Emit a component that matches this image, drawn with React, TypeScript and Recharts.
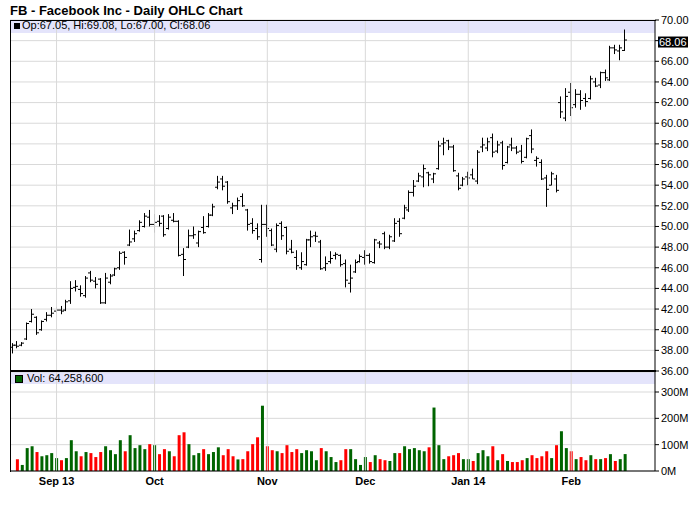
import { Bar, CartesianGrid, Cell, ComposedChart, ReferenceLine, XAxis, YAxis } from "recharts";

// daily OHLC, Aug 20 2013 .. Feb 19 2014 (one entry per trading day)
const opens = [
  38.3, 38.5, 38.5, 39.1, 40.8, 41.2, 40.0, 41.0, 41.4, 41.8,
  41.9, 41.9, 42.8, 44.1, 43.9, 43.3, 45.5, 44.7, 44.9, 42.6,
  44.6, 45.3, 46.0, 47.5, 48.2, 48.8, 49.6, 50.0, 50.9, 50.2,
  50.5, 51.0, 49.8, 50.6, 50.5, 47.3, 48.0, 49.1, 48.4, 49.9,
  50.0, 51.1, 53.8, 54.6, 54.3, 51.8, 52.0, 52.9, 51.6, 50.3,
  49.8, 46.8, 50.2, 49.6, 47.8, 50.3, 49.9, 47.8, 47.0, 46.0,
  46.3, 48.7, 49.1, 48.5, 46.0, 46.6, 47.2, 47.2, 46.4, 44.5,
  45.6, 46.6, 47.0, 47.2, 46.5, 48.4, 49.3, 48.0, 48.6, 50.5,
  50.8, 51.6, 53.3, 54.4, 54.8, 55.2, 54.6, 55.6, 58.0, 58.3,
  57.7, 54.9, 54.0, 54.8, 55.0, 54.4, 57.7, 57.6, 58.6, 57.3,
  58.1, 56.2, 57.9, 57.6, 57.3, 56.7, 58.8, 56.4, 56.2, 54.7,
  54.0, 54.6, 62.0, 60.5, 63.0, 61.8, 62.8, 62.4, 62.4, 64.0,
  63.7, 64.9, 64.2, 67.3, 67.0, 67.05,
];
const highs = [
  38.7, 38.9, 38.8, 40.7, 42.0, 41.3, 40.9, 41.7, 42.2, 42.2,
  42.3, 42.9, 44.7, 44.8, 44.3, 45.2, 45.7, 45.1, 45.0, 45.5,
  45.4, 46.0, 47.6, 47.6, 49.7, 49.6, 50.6, 51.3, 51.6, 51.2,
  51.1, 51.1, 51.2, 51.3, 50.6, 47.9, 49.7, 50.0, 49.6, 51.0,
  51.3, 52.2, 54.9, 54.9, 54.4, 52.3, 52.8, 53.2, 51.7, 50.8,
  50.3, 52.1, 52.1, 49.8, 50.3, 50.5, 50.0, 48.7, 47.7, 47.5,
  48.8, 49.6, 49.5, 48.7, 47.1, 47.6, 47.5, 47.3, 46.8, 46.3,
  46.8, 47.3, 47.7, 47.4, 48.8, 48.6, 49.5, 49.2, 50.8, 50.8,
  52.1, 53.5, 54.5, 55.2, 56.0, 55.3, 55.2, 58.3, 58.6, 58.4,
  57.9, 55.2, 54.8, 55.3, 55.6, 57.4, 58.6, 58.6, 59.0, 58.3,
  58.3, 57.8, 58.6, 57.8, 57.9, 58.6, 59.4, 56.8, 56.5, 55.0,
  55.3, 55.0, 62.6, 63.4, 63.9, 63.3, 63.2, 62.9, 64.6, 64.4,
  65.0, 65.2, 67.5, 67.6, 67.6, 69.08,
];
const lows = [
  37.7, 38.2, 38.4, 39.0, 40.7, 39.5, 39.9, 40.8, 41.2, 41.6,
  41.5, 41.8, 42.5, 43.7, 43.2, 43.1, 44.6, 44.0, 42.5, 42.5,
  44.4, 45.2, 45.8, 46.3, 48.1, 48.5, 49.5, 49.9, 50.0, 49.4,
  50.0, 49.0, 49.7, 50.4, 47.1, 45.2, 47.9, 48.8, 48.0, 49.3,
  49.9, 51.0, 53.6, 53.5, 52.2, 51.2, 51.6, 51.9, 49.6, 49.3,
  48.7, 46.5, 49.0, 48.1, 47.5, 48.7, 47.3, 47.4, 45.8, 45.8,
  46.2, 48.0, 48.5, 45.8, 45.7, 46.4, 46.8, 46.1, 44.1, 43.6,
  45.5, 46.5, 46.3, 46.4, 46.4, 47.9, 47.8, 47.8, 48.5, 49.0,
  50.7, 51.4, 52.9, 54.3, 53.8, 53.9, 54.2, 55.5, 56.9, 57.4,
  55.3, 53.5, 53.9, 54.0, 54.6, 54.1, 57.2, 57.3, 56.7, 57.1,
  55.5, 56.1, 57.3, 57.0, 56.1, 56.6, 57.1, 55.8, 54.5, 51.9,
  54.0, 53.3, 60.5, 60.2, 60.7, 61.5, 61.3, 61.6, 62.3, 63.5,
  63.4, 64.1, 64.1, 66.7, 66.1, 67.0,
];
const closes = [
  38.5, 38.4, 38.7, 40.6, 41.5, 39.7, 40.8, 41.4, 41.6, 41.9,
  41.8, 42.7, 44.0, 44.2, 43.5, 45.0, 44.8, 44.4, 42.6, 45.0,
  45.2, 45.9, 47.4, 47.0, 48.5, 49.3, 50.4, 51.0, 50.2, 50.4,
  50.3, 49.2, 50.9, 50.5, 47.2, 46.8, 49.1, 49.2, 49.5, 49.4,
  51.1, 51.9, 54.3, 53.9, 52.4, 52.0, 52.5, 52.0, 50.2, 49.6,
  49.0, 50.2, 49.8, 48.2, 50.1, 49.1, 47.6, 47.5, 46.2, 46.6,
  48.7, 49.0, 49.05, 45.9, 46.4, 46.9, 47.3, 46.3, 44.8, 45.0,
  46.5, 47.1, 47.2, 46.6, 48.7, 48.3, 48.0, 49.0, 50.3, 49.3,
  51.8, 53.3, 53.9, 54.9, 55.6, 55.0, 55.1, 57.8, 58.1, 57.7,
  55.4, 53.7, 54.6, 54.7, 54.6, 57.2, 57.9, 58.2, 57.2, 57.9,
  55.9, 57.7, 57.6, 57.2, 56.3, 58.5, 57.5, 56.6, 54.6, 53.6,
  55.1, 53.5, 61.1, 62.6, 61.5, 62.8, 62.2, 62.1, 64.3, 63.6,
  64.9, 64.4, 67.3, 67.1, 67.3, 68.06,
];
// volume in millions of shares (first day has no bar)
const volumes = [
  null, 45, 23, 87, 94, 72, 56, 60, 68, 49,
  41, 49, 117, 75, 56, 72, 68, 53, 72, 94,
  79, 64, 117, 75, 136, 87, 98, 83, 102, 98,
  64, 83, 75, 56, 136, 147, 102, 60, 68, 83,
  64, 72, 90, 60, 83, 56, 44, 45, 75, 102,
  128, 248, 94, 79, 75, 68, 98, 72, 83, 68,
  79, 75, 41, 87, 75, 53, 34, 41, 83, 83,
  45, 23, 53, 34, 60, 45, 41, 38, 68, 68,
  94, 83, 87, 79, 75, 90, 241, 98, 45, 56,
  60, 68, 45, 45, 38, 68, 79, 56, 94, 41,
  64, 38, 34, 34, 41, 49, 60, 49, 56, 75,
  49, 98, 151, 87, 75, 45, 53, 41, 60, 45,
  45, 49, 64, 38, 45, 64.26,
];
const lastVolumeShares = 64258600;

const monthTicks = [9, 29, 52, 72, 93, 114];
const monthLabels = ["Sep 13", "Oct", "Nov", "Dec", "Jan 14", "Feb"];
const priceTicks = [36, 38, 40, 42, 44, 46, 48, 50, 52, 54, 56, 58, 60, 62, 64, 66, 68, 70];
const volumeTicks = [0, 100, 200, 300];

const FONT = "'Liberation Sans', Arial, Helvetica, sans-serif";
const UP = "#006400";
const DOWN = "#ff0000";
const GRID = "#d9d9d9";
const BAND = "#e4e4fb";
const X_DOMAIN: [number, number] = [-0.5, 131.1];

const last = closes.length - 1;
const lastClose = closes[last];

const rows = closes.map((c, i) => ({
  i,
  range: [lows[i], highs[i]],
  o: opens[i],
  h: highs[i],
  l: lows[i],
  c,
  vol: volumes[i],
  up: i === 0 || c >= closes[i - 1],
}));

function OhlcBar(props: any) {
  const { x, y, width, height, payload } = props;
  if (x == null || !payload) return null;
  const top = Math.min(y, y + height);
  const span = Math.abs(height);
  const unit = payload.h > payload.l ? span / (payload.h - payload.l) : 0;
  const cx = Math.floor(x + width / 2) + 0.5;
  const oy = top + (payload.h - payload.o) * unit;
  const cy = top + (payload.h - payload.c) * unit;
  return (
    <g stroke="#000" strokeWidth={1}>
      <line x1={cx} x2={cx} y1={top} y2={top + Math.max(span, 1)} />
      <line x1={cx - 2.5} x2={cx} y1={oy} y2={oy} />
      <line x1={cx} x2={cx + 2.5} y1={cy} y2={cy} />
    </g>
  );
}

function LastPriceTag(props: any) {
  const vb = props.viewBox;
  if (!vb) return null;
  const x = vb.x + vb.width + 3;
  const y = vb.y;
  return (
    <g>
      <rect x={x} y={y - 3.5} width={30} height={11} fill="#000" />
      <text x={x + 1} y={y + 6} fill="#fff" fontSize={11} fontFamily={FONT}>
        {lastClose.toFixed(2)}
      </text>
    </g>
  );
}

export default function App() {
  const legend = `Op:${opens[last].toFixed(2)}, Hi:${highs[last].toFixed(2)}, Lo:${lows[last].toFixed(2)}, Cl:${lastClose.toFixed(2)}`;
  return (
    <div style={{ position: "absolute", left: 0, top: 0, width: 700, height: 512, background: "#fff", fontFamily: FONT, overflow: "hidden" }}>
      <div style={{ position: "absolute", left: 10, top: 3, fontSize: 13, fontWeight: "bold", lineHeight: "15px", color: "#000" }}>
        FB - Facebook Inc - Daily OHLC Chart
      </div>

      <div style={{ position: "absolute", left: 10, top: 20, width: 645, height: 12.5, background: BAND }} />
      <div style={{ position: "absolute", left: 10, top: 372, width: 645, height: 12, background: BAND }} />

      <div style={{ position: "absolute", left: 0, top: 372 }}>
        <ComposedChart width={700} height={140} data={rows} margin={{ top: 0, right: 0, left: 10, bottom: 0 }}>
          <CartesianGrid vertical={false} stroke={GRID} />
          <XAxis
            dataKey="i"
            type="number"
            domain={X_DOMAIN}
            allowDataOverflow
            ticks={monthTicks}
            interval={0}
            height={41}
            axisLine={{ stroke: "#000" }}
            tickLine={false}
            tickSize={4}
            tickMargin={2}
            tick={{ fontSize: 11, fontWeight: "bold", fill: "#000", fontFamily: FONT }}
            tickFormatter={(v: number) => monthLabels[monthTicks.indexOf(v)] ?? ""}
          />
          <YAxis
            orientation="right"
            width={45}
            domain={[0, 376]}
            ticks={volumeTicks}
            interval={0}
            allowDataOverflow
            axisLine={{ stroke: "#000" }}
            tickLine={{ stroke: "#000" }}
            tickSize={4}
            tickMargin={2}
            tick={{ fontSize: 11, fill: "#000", fontFamily: FONT }}
            tickFormatter={(v: number) => `${v}M`}
          />
          {monthTicks.map((m) => (
            <ReferenceLine key={m} x={m} stroke={GRID} />
          ))}
          <Bar dataKey="vol" barSize={3} isAnimationActive={false}>
            {rows.map((r) => (
              <Cell key={r.i} fill={r.up ? UP : DOWN} />
            ))}
          </Bar>
        </ComposedChart>
      </div>

      <div style={{ position: "absolute", left: 0, top: 0 }}>
        <ComposedChart width={700} height={382} data={rows} margin={{ top: 20, right: 0, left: 10, bottom: 11 }}>
          <CartesianGrid vertical={false} stroke={GRID} />
          <XAxis dataKey="i" type="number" domain={X_DOMAIN} allowDataOverflow hide />
          <YAxis
            orientation="right"
            width={45}
            domain={[36, 70]}
            ticks={priceTicks}
            interval={0}
            allowDataOverflow
            axisLine={{ stroke: "#000" }}
            tickLine={{ stroke: "#000" }}
            tickSize={4}
            tickMargin={2}
            tick={{ fontSize: 11, fill: "#000", fontFamily: FONT }}
            tickFormatter={(v: number) => (Math.abs(v - lastClose) < 1 ? "" : v.toFixed(2))}
          />
          {monthTicks.map((m) => (
            <ReferenceLine key={m} x={m} stroke={GRID} />
          ))}
          <Bar dataKey="range" barSize={4} shape={OhlcBar} isAnimationActive={false} />
          <ReferenceLine y={lastClose} stroke="none" label={<LastPriceTag />} />
        </ComposedChart>
      </div>

      <div style={{ position: "absolute", left: 10, top: 20, width: 646, height: 1, background: "#000" }} />
      <div style={{ position: "absolute", left: 10, top: 20, width: 1, height: 452, background: "#000" }} />
      <div style={{ position: "absolute", left: 10, top: 370, width: 646, height: 2, background: "#000" }} />

      <div style={{ position: "absolute", left: 14, top: 23, width: 6, height: 6, background: "#000" }} />
      <div style={{ position: "absolute", left: 22, top: 19, fontSize: 11, lineHeight: "12px", color: "#000", whiteSpace: "nowrap" }}>
        {legend}
      </div>
      <div style={{ position: "absolute", left: 15, top: 375, width: 8, height: 8, boxSizing: "border-box", background: UP, border: "1px solid #000" }} />
      <div style={{ position: "absolute", left: 27, top: 371.5, fontSize: 11, lineHeight: "12px", color: "#000", whiteSpace: "nowrap" }}>
        Vol: {lastVolumeShares.toLocaleString("en-US")}
      </div>
    </div>
  );
}
